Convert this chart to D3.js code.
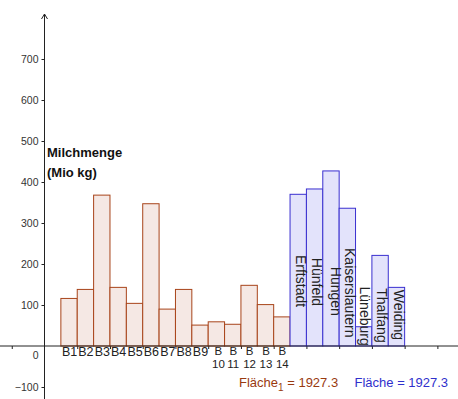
<!DOCTYPE html>
<html><head><meta charset="utf-8">
<script src="https://cdn.jsdelivr.net/npm/d3@7"></script>
<style>
html,body{margin:0;padding:0;background:#fff;}
svg{display:block;font-family:"Liberation Sans",Arial,sans-serif;}
</style></head>
<body><svg id="c" width="458" height="399"></svg>
<script>
// ---- data ----
const brownCategories = ["B1","B2","B3","B4","B5","B6","B7","B8","B9","B10","B11","B12","B13","B14"];
const brownValues = [116,138,368,143,104,347,90,138,51,59,53,148,101,71];
const blueCategories = ["Erftstadt","Hünfeld","Hungen","Kaiserslautern","Lüneburg","Thalfang","Weiding"];
const blueValues = [370,383,427,336,47,221,143];
const yTickValues = [-100,100,200,300,400,500,600,700];
const xTickValues = [-2,2,4,6,8,10,12,14,16,18,20,22,24];
const yTitle = ["Milchmenge","(Mio kg)"];
const brownArea = "1927.3";
const blueArea = "1927.3";
// label anchor heights (in data units) for the rotated blue-bar labels
const blueLabelAnchor = [222,215,193,239,145,141,137];
const blueLabelDx = [-2.5,-2.5,0.3,-2,-3.5,-3.4,-2];

// ---- layout ----
const svg = d3.select("#c");
const unit = 16.37;
const x = d3.scaleLinear().domain([0,24]).range([44.5, 44.5 + 24*unit]);
const y = d3.scaleLinear().domain([0,700]).range([346, 59]);
const axisColor = "#222";
const brownStroke = "#a8441a", brownFill = "#f5e8e4";
const blueStroke = "#3a30d0", blueFill = "#e3e3fb";

// x axis ticks
const gx = svg.append("g").attr("transform",`translate(0,${y(0)})`)
  .call(d3.axisBottom(x).tickValues(xTickValues).tickSize(3).tickFormat(""));
gx.select(".domain").remove();
gx.selectAll("line").attr("stroke",axisColor);

// y axis ticks
const gy = svg.append("g").attr("transform",`translate(${x(0)},0)`)
  .call(d3.axisLeft(y).tickValues(yTickValues).tickSize(3).tickPadding(3));
gy.select(".domain").remove();
gy.selectAll("line").attr("stroke",axisColor);
gy.selectAll("text").attr("font-size","10.5px").attr("fill","#333")
  .attr("font-family","'Liberation Sans',Arial,sans-serif");
svg.append("text").attr("x",x(0)-6).attr("y",y(0)+13).attr("text-anchor","end")
  .attr("font-size","10.5px").attr("fill","#333").text("0");

// bars (brown)
svg.append("g").selectAll("rect").data(brownValues).join("rect")
  .attr("x",(d,i)=>x(i+1)).attr("width",x(2)-x(1))
  .attr("y",d=>y(d)).attr("height",d=>y(0)-y(d))
  .attr("fill",brownFill).attr("stroke",brownStroke).attr("stroke-width",1);

// bars (blue)
svg.append("g").selectAll("rect").data(blueValues).join("rect")
  .attr("x",(d,i)=>x(i+15)).attr("width",x(2)-x(1))
  .attr("y",d=>y(d)).attr("height",d=>y(0)-y(d))
  .attr("fill",blueFill).attr("stroke",blueStroke).attr("stroke-width",1);

// axis lines
svg.append("line").attr("x1",0).attr("x2",458).attr("y1",y(0)).attr("y2",y(0))
  .attr("stroke",axisColor).attr("stroke-width",1);
svg.append("line").attr("x1",x(0)).attr("x2",x(0)).attr("y1",14).attr("y2",399)
  .attr("stroke",axisColor).attr("stroke-width",1);
svg.append("path").attr("d",`M${x(0)-3},${19}L${x(0)},${14}L${x(0)+3},${19}`)
  .attr("fill","none").attr("stroke",axisColor).attr("stroke-width",1);

// brown labels
const bl = svg.append("g").attr("fill","#222");
brownCategories.forEach((c,i)=>{
  const cx = (x(i+1)+x(i+2))/2 + 0.5;
  if (c.length <= 2) {
    bl.append("text").attr("x",cx).attr("y",356).attr("font-size","12.5px")
      .attr("text-anchor","middle").text(c);
  } else {
    const dx = i===9 ? 1.5 : 0;
    bl.append("text").attr("x",cx+dx).attr("y",355).attr("font-size","11.5px")
      .attr("text-anchor","middle").text(c.slice(0,1));
    bl.append("text").attr("x",cx+dx).attr("y",368).attr("font-size","11.5px")
      .attr("text-anchor","middle").text(c.slice(1));
  }
});

// blue labels (rotated)
const ul = svg.append("g").attr("font-size","14px").attr("fill","#222");
blueCategories.forEach((c,i)=>{
  const cx = (x(i+15)+x(i+16))/2 + blueLabelDx[i];
  const ty = y(blueLabelAnchor[i]);
  ul.append("text").attr("transform",`translate(${cx},${ty}) rotate(90)`)
    .attr("text-anchor","start").text(c);
});

// y title
svg.append("text").attr("x",47).attr("y",157).attr("font-size","13px")
  .attr("font-weight","bold").attr("fill","#111").text(yTitle[0]);
svg.append("text").attr("x",47).attr("y",176.5).attr("font-size","13px")
  .attr("font-weight","bold").attr("fill","#111").text(yTitle[1]);

// area annotations
const t1 = svg.append("text").attr("x",239).attr("y",386.5).attr("font-size","13px").attr("fill","#993a10");
t1.append("tspan").text("Fläche");
t1.append("tspan").attr("dy",4).attr("font-size","10px").text("1");
t1.append("tspan").attr("dy",-4).text(" = " + brownArea);
svg.append("text").attr("x",354.5).attr("y",386.5).attr("font-size","13px").attr("fill","#3030cc")
  .text("Fläche = " + blueArea);
</script>
</body></html>
